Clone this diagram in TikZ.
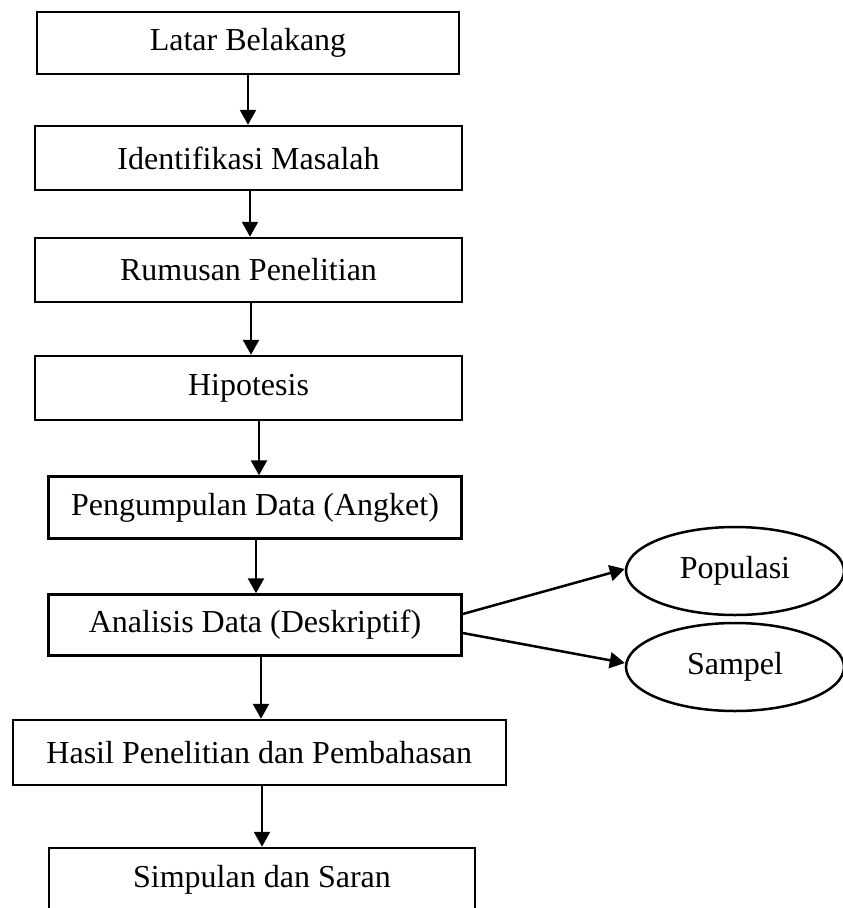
\documentclass[tikz,border=0pt]{standalone}
\usepackage{fontspec}
\setmainfont{Liberation Serif}
\usetikzlibrary{arrows.meta,shapes.geometric}
\begin{document}
\begin{tikzpicture}[x=1pt,y=-1pt,
  font=\fontsize{32}{38}\selectfont,
  boxnode/.style={draw,line width=2.5pt,rectangle,inner sep=0pt,minimum width=#1},
  ovalnode/.style={draw,line width=2.5pt,ellipse,inner sep=0pt,minimum width=218pt,minimum height=88pt},
  arr/.style={line width=2.5pt,-{Triangle[length=15pt,width=16pt]}}]
\useasboundingbox (0,0) rectangle (843,908);
\clip (0,0) rectangle (843,908);
\node[boxnode=422pt,minimum height=62pt] (b1) at (248,43) {Latar Belakang};
\node[boxnode=427pt,minimum height=64pt] (b2) at (248.5,158) {Identifikasi Masalah};
\node[boxnode=427pt,minimum height=64pt] (b3) at (248.5,270) {Rumusan Penelitian};
\node[boxnode=427pt,minimum height=64pt] (b4) at (248.5,388) {Hipotesis};
\node[boxnode=413pt,minimum height=62pt] (b5) at (255,507.5) {Pengumpulan Data (Angket)};
\node[boxnode=413pt,minimum height=61pt] (b6) at (255,625) {Analisis Data (Deskriptif)};
\node[boxnode=493pt,minimum height=65pt] (b7) at (259.3,752.5) {Hasil Penelitian dan Pembahasan};
\node[boxnode=426pt,minimum height=64pt] (b8) at (262,880) {Simpulan dan Saran};
\node[ovalnode] (pop) at (735,571) {Populasi};
\node[ovalnode] (smp) at (735,667) {Sampel};
\draw[arr] (b1.south -| 248,0) -- (b2.north -| 248,0);
\draw[arr] (b2.south -| 250,0) -- (b3.north -| 250,0);
\draw[arr] (b3.south -| 251,0) -- (b4.north -| 251,0);
\draw[arr] (b4.south -| 259,0) -- (b5.north -| 259,0);
\draw[arr] (b5.south -| 256,0) -- (b6.north -| 256,0);
\draw[arr] (b6.south -| 261,0) -- (b7.north -| 261,0);
\draw[arr] (b7.south -| 262,0) -- (b8.north -| 262,0);
\draw[arr] ([yshift=11pt]b6.east) -- ([yshift=2pt]pop.west);
\draw[arr] ([yshift=-8pt]b6.east) -- ([yshift=4pt]smp.west);
\end{tikzpicture}
\end{document}
